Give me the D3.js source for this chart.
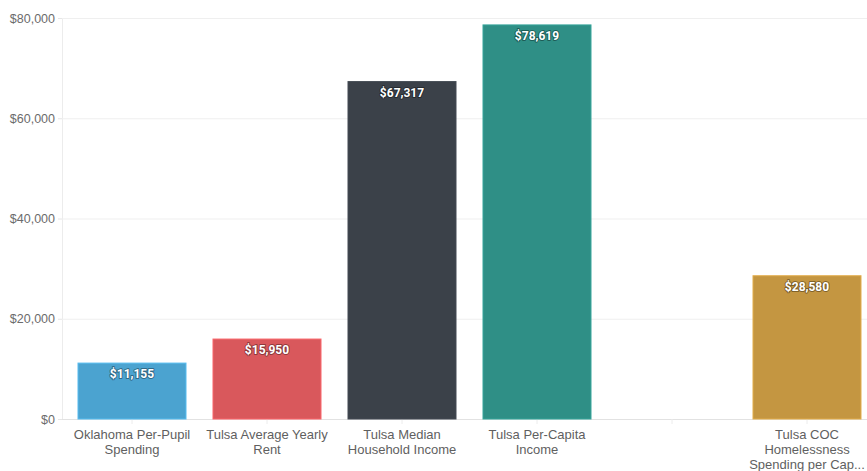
<!DOCTYPE html>
<html>
<head>
<meta charset="utf-8">
<script src="https://cdn.jsdelivr.net/npm/d3@7"></script>
<style>
  body { margin: 0; background: #fff; }
  svg { font-family: Roboto, "Noto Sans", sans-serif; }
</style>
</head>
<body>
<svg id="chart"></svg>
<script>
// chart data
const categories = [
    'Oklahoma Per-Pupil Spending',
    'Tulsa Average Yearly Rent',
    'Tulsa Median Household Income',
    'Tulsa Per-Capita Income',
    '',
    'Tulsa COC Homelessness Spending per Capita'
];
const values = [11155, 15950, 67317, 78619, null, 28580];
const colors = ['#4ba3d0', '#d9585c', '#3b4149', '#2f8f86', null, '#c49641'];
const yTicks = [0, 20000, 40000, 60000, 80000];

const width = 867, height = 471;
const plotLeft = 62, plotTop = 18, plotBottom = 419;

const svg = d3.select('#chart')
        .attr('width', width)
        .attr('height', height);

const x = d3.scaleBand()
        .domain(d3.range(categories.length))
        .range([64.5, 874.5])
        .paddingInner(0.2)
        .paddingOuter(0.1);

const y = d3.scaleLinear()
        .domain([0, 80000])
        .range([plotBottom, plotTop]);

const money = d3.format('$,');

// grid + y axis
svg.append('g')
        .attr('transform', `translate(${plotLeft},0)`)
        .call(d3.axisLeft(y).tickValues(yTicks).tickFormat(money).tickSize(4).tickPadding(3))
        .call(g => g.select('.domain').attr('stroke', '#ececec'))
        .call(g => g.selectAll('.tick line').attr('stroke', '#e6e6e6'))
        .call(g => g.selectAll('.tick text')
                .attr('fill', '#6b6b6b')
                .style('font-size', '12.5px'))
        .call(g => g.selectAll('.tick').append('line')
                .attr('x1', 0)
                .attr('x2', width - plotLeft)
                .attr('stroke', d => d === 0 ? '#e2e2e2' : '#efefef'));

// x axis
const xAxis = svg.append('g')
        .attr('transform', `translate(0,${plotBottom})`)
        .call(d3.axisBottom(x).tickSize(5).tickFormat(''))
        .call(g => g.select('.domain').remove())
        .call(g => g.selectAll('.tick line').attr('stroke', '#ececec'));

// category labels, wrapped
const maxWidth = 128, maxLines = 3, lineHeight = 14.8;
xAxis.selectAll('.tick').each(function (i) {
    const cx = x(i) + x.bandwidth() / 2;
    const text = d3.select(this).append('text')
            .attr('fill', '#5f5f5f')
            .attr('text-anchor', 'middle')
            .style('font-size', '13px');
    const words = categories[i].split(' ').filter(w => w);
    let lines = [], line = [];
    const tmp = text.append('tspan');
    words.forEach(w => {
        const test = line.concat(w).join(' ');
        tmp.text(test);
        if (line.length && tmp.node().getComputedTextLength() > maxWidth) {
            lines.push(line.join(' '));
            line = [w];
        } else {
            line.push(w);
        }
    });
    if (line.length) lines.push(line.join(' '));
    if (lines.length > maxLines) {
        lines = lines.slice(0, maxLines - 1).concat(lines.slice(maxLines - 1).join(' '));
    }
    // keep last line inside the picture
    const limit = Math.min(maxWidth, 2 * (width - 2 - cx));
    let last = lines[lines.length - 1] || '';
    tmp.text(last);
    if (tmp.node().getComputedTextLength() > limit) {
        while (last.length && tmp.node().getComputedTextLength() > limit) {
            last = last.slice(0, -1);
            tmp.text(last.trimEnd() + '...');
        }
        lines[lines.length - 1] = last.trimEnd() + '...';
    }
    tmp.remove();
    lines.forEach((l, k) => {
        text.append('tspan')
                .attr('x', 0)
                .attr('y', 20 + k * lineHeight)
                .text(l);
    });
});

// bars
const data = values.map((v, i) => ({i, v, color: colors[i]})).filter(d => d.v !== null);

svg.append('g')
        .selectAll('rect')
        .data(data)
        .join('rect')
        .attr('x', d => x(d.i))
        .attr('y', d => y(d.v))
        .attr('width', x.bandwidth())
        .attr('height', d => y(0) - y(d.v))
        .attr('fill', d => d.color)
        .attr('stroke', d => d3.color(d.color).brighter(0.4))
        .attr('stroke-width', 1);

// value labels
svg.append('g')
        .selectAll('text')
        .data(data)
        .join('text')
        .attr('x', d => x(d.i) + x.bandwidth() / 2)
        .attr('y', d => y(d.v) + 15)
        .attr('text-anchor', 'middle')
        .attr('fill', '#fff')
        .style('font-size', '12px')
        .style('font-weight', 'bold')
        .style('paint-order', 'stroke')
        .attr('stroke', 'rgba(0,0,0,0.35)')
        .attr('stroke-width', 2)
        .attr('stroke-linejoin', 'round')
        .text(d => money(d.v));
</script>
</body>
</html>
